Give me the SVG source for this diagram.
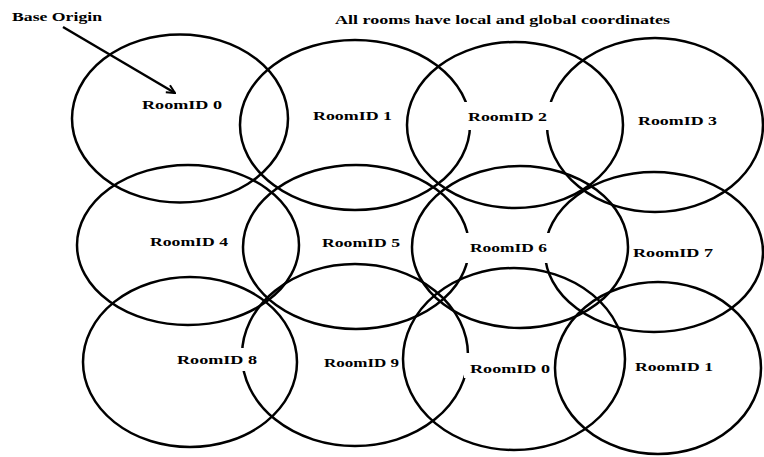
<svg xmlns="http://www.w3.org/2000/svg" width="764" height="457" viewBox="0 0 764 457">
<style>
.room{fill:none;stroke:#000;stroke-width:2.5}
.bg{fill:#fff}
.lbl{font-family:"Liberation Serif","Times New Roman",serif;font-weight:bold;font-size:12.5px;fill:#000}
.conn{fill:none;stroke:#000;stroke-width:2.5}
</style>
<defs>
<marker id="arr" viewBox="0 0 12 12" refX="11" refY="6" markerWidth="11" markerHeight="11" markerUnits="userSpaceOnUse" orient="auto">
<path d="M2,1.5 L11,6 L2,10.5" fill="none" stroke="#000" stroke-width="2.2"/>
</marker>
</defs>
<rect width="764" height="457" fill="#fff"/>
<text class="lbl" x="12" y="21" textLength="90" lengthAdjust="spacingAndGlyphs">Base Origin</text>
<text class="lbl" x="335" y="24" textLength="335" lengthAdjust="spacingAndGlyphs">All rooms have local and global coordinates</text>
<g id="room0"><ellipse class="room" cx="180" cy="118.5" rx="108" ry="84"/><text class="lbl" x="142" y="109" textLength="80" lengthAdjust="spacingAndGlyphs">RoomID 0</text></g>
<g id="room1"><ellipse class="room" cx="355" cy="125" rx="115" ry="85"/><rect class="bg" x="309" y="106" width="87" height="20"/><text class="lbl" x="313" y="120" textLength="79" lengthAdjust="spacingAndGlyphs">RoomID 1</text></g>
<g id="room3"><ellipse class="room" cx="655" cy="125" rx="108" ry="87"/><rect class="bg" x="634" y="110" width="87" height="20"/><text class="lbl" x="638" y="125" textLength="79" lengthAdjust="spacingAndGlyphs">RoomID 3</text></g>
<g id="room2"><ellipse class="room" cx="515" cy="125" rx="108" ry="83"/><rect class="bg" x="462" y="102" width="91" height="28"/><text class="lbl" x="468" y="121" textLength="79" lengthAdjust="spacingAndGlyphs">RoomID 2</text></g>
<g id="room4"><ellipse class="room" cx="188" cy="245" rx="111" ry="80"/><rect class="bg" x="146" y="232" width="86" height="20"/><text class="lbl" x="150" y="246" textLength="78" lengthAdjust="spacingAndGlyphs">RoomID 4</text></g>
<g id="room5"><ellipse class="room" cx="356" cy="247" rx="113" ry="82"/><rect class="bg" x="318" y="233" width="86" height="20"/><text class="lbl" x="322" y="247" textLength="78" lengthAdjust="spacingAndGlyphs">RoomID 5</text></g>
<g id="room7"><ellipse class="room" cx="654" cy="252" rx="109" ry="80"/><rect class="bg" x="631" y="242" width="84" height="20"/><text class="lbl" x="633" y="257" textLength="80" lengthAdjust="spacingAndGlyphs">RoomID 7</text></g>
<g id="room6"><ellipse class="room" cx="520" cy="247" rx="108" ry="81"/><rect class="bg" x="464" y="233" width="89" height="30"/><text class="lbl" x="470" y="252" textLength="77" lengthAdjust="spacingAndGlyphs">RoomID 6</text></g>
<g id="room9"><ellipse class="room" cx="355" cy="355" rx="113" ry="91"/><rect class="bg" x="321" y="353" width="80" height="20"/><text class="lbl" x="324" y="367" textLength="75" lengthAdjust="spacingAndGlyphs">RoomID 9</text></g>
<g id="room8"><ellipse class="room" cx="190" cy="362" rx="107" ry="85"/><rect class="bg" x="173" y="348" width="89" height="23"/><text class="lbl" x="177" y="364" textLength="80" lengthAdjust="spacingAndGlyphs">RoomID 8</text></g>
<g id="room10"><ellipse class="room" cx="514" cy="359" rx="111" ry="91"/><rect class="bg" x="464" y="353" width="90" height="25"/><text class="lbl" x="470" y="373" textLength="80" lengthAdjust="spacingAndGlyphs">RoomID 0</text></g>
<g id="room11"><ellipse class="room" cx="658" cy="368" rx="103" ry="86"/><rect class="bg" x="631" y="357" width="86" height="20"/><text class="lbl" x="635" y="371" textLength="78" lengthAdjust="spacingAndGlyphs">RoomID 1</text></g>
<g id="connectors"><path class="conn" d="M63,27 L175,93" marker-end="url(#arr)"/></g>
</svg>
